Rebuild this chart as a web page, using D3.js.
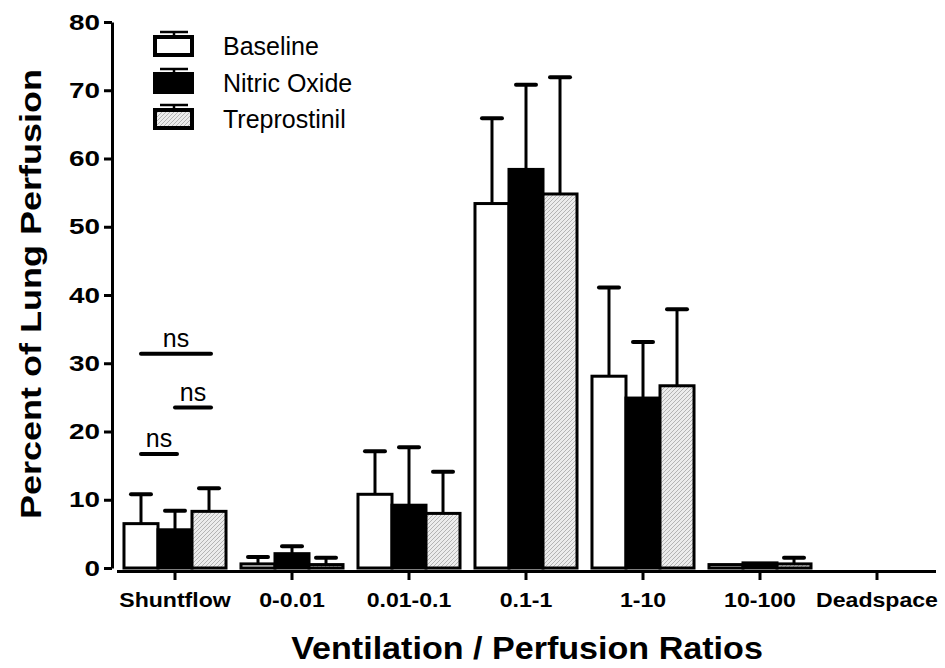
<!DOCTYPE html>
<html>
<head>
<meta charset="utf-8">
<script src="https://cdn.jsdelivr.net/npm/d3@7"></script>
<style>
  body { margin: 0; background: #fff; }
  svg { display: block; }
  text { font-family: "Liberation Sans", Arial, Helvetica, sans-serif; }
</style>
</head>
<body>
<svg id="chart" width="945" height="668"></svg>
<script>
// ---- data ----
const categories = ["Shuntflow", "0-0.01", "0.01-0.1", "0.1-1", "1-10", "10-100", "Deadspace"];
const seriesNames = ["Baseline", "Nitric Oxide", "Treprostinil"];
const baselineValues = [6.5, 0.6, 10.8, 53.4, 28.1, 0.5, 0];
const baselineErrors = [4.3, 1.0, 6.3, 12.5, 13.0, 0, 0];
const nitricValues = [5.6, 2.1, 9.2, 58.4, 24.9, 0.75, 0];
const nitricErrors = [2.8, 1.1, 8.5, 12.4, 8.2, 0, 0];
const treprostinilValues = [8.3, 0.5, 8.0, 54.8, 26.7, 0.6, 0];
const treprostinilErrors = [3.4, 1.0, 6.1, 17.1, 11.2, 0.9, 0];
const yTicks = [0, 10, 20, 30, 40, 50, 60, 70, 80];
// significance brackets within "Shuntflow": [from series, to series, level]
const sigFrom = [0, 1, 0];
const sigTo = [1, 2, 2];
const sigLevel = [16.7, 23.5, 31.4];
const sigLabel = ["ns", "ns", "ns"];

const seriesValues = [baselineValues, nitricValues, treprostinilValues];
const seriesErrors = [baselineErrors, nitricErrors, treprostinilErrors];

// ---- layout ----
const svg = d3.select("#chart");
const defs = svg.append("defs");
const pat = defs.append("pattern")
  .attr("id", "hatch").attr("patternUnits", "userSpaceOnUse")
  .attr("width", 4).attr("height", 4);
pat.append("rect").attr("width", 4).attr("height", 4).attr("fill", "#ececec");
pat.append("path").attr("d", "M-1,1 l2,-2 M0,4 l4,-4 M3,5 l2,-2")
  .attr("stroke", "#b4b4b4").attr("stroke-width", 1);

const fills = ["#ffffff", "#000000", "url(#hatch)"];

const x = d3.scaleBand().domain(categories).range([116.5, 935.5])
  .paddingInner(0.128).paddingOuter(0.064);
const xs = d3.scaleBand().domain(d3.range(3)).range([0, x.bandwidth()]).padding(0);
const y = d3.scaleLinear().domain([0, 80]).range([568, 22]);

// y axis
const yAxis = svg.append("g").attr("transform", "translate(112,0)")
  .call(d3.axisLeft(y).tickValues(yTicks).tickSize(8).tickSizeOuter(0).tickPadding(4));
yAxis.select(".domain").attr("stroke-width", 3);
yAxis.selectAll(".tick line").attr("stroke-width", 3);
yAxis.selectAll(".tick text").attr("font-size", 22).attr("font-weight", "bold")
  .attr("fill", "#000").attr("font-family", "Liberation Sans, Arial, sans-serif")
  .attr("textLength", function () { return 15.5 * this.textContent.length; })
  .attr("lengthAdjust", "spacingAndGlyphs");

// x axis
const xAxis = svg.append("g").attr("transform", "translate(0,571)")
  .call(d3.axisBottom(x).tickSize(9).tickSizeOuter(0).tickPadding(12));
xAxis.select(".domain").attr("stroke-width", 3);
xAxis.selectAll(".tick line").attr("stroke-width", 3);
xAxis.selectAll(".tick text").attr("font-size", 21).attr("font-weight", "bold")
  .attr("fill", "#000").attr("font-family", "Liberation Sans, Arial, sans-serif")
  .attr("transform", "scale(1.1,1)");

// bars
const bars = [];
seriesValues.forEach((vals, s) => {
  vals.forEach((v, i) => {
    if (v > 0) bars.push({ s, cat: categories[i], v, e: seriesErrors[s][i] });
  });
});

const gBars = svg.append("g");
gBars.selectAll("rect").data(bars).join("rect")
  .attr("x", d => x(d.cat) + xs(d.s))
  .attr("y", d => y(d.v))
  .attr("width", xs.bandwidth())
  .attr("height", d => y(0) - y(d.v))
  .attr("fill", d => fills[d.s])
  .attr("stroke", "#000").attr("stroke-width", 3);

// error bars
const errs = bars.filter(d => d.e > 0);
const gErr = svg.append("g").attr("stroke", "#000");
gErr.selectAll("line.stem").data(errs).join("line").attr("class", "stem")
  .attr("x1", d => x(d.cat) + xs(d.s) + xs.bandwidth() / 2)
  .attr("x2", d => x(d.cat) + xs(d.s) + xs.bandwidth() / 2)
  .attr("y1", d => y(d.v)).attr("y2", d => y(d.v + d.e))
  .attr("stroke-width", 3);
gErr.selectAll("line.cap").data(errs).join("line").attr("class", "cap")
  .attr("x1", d => x(d.cat) + xs(d.s) + xs.bandwidth() / 2 - 10)
  .attr("x2", d => x(d.cat) + xs(d.s) + xs.bandwidth() / 2 + 10)
  .attr("y1", d => y(d.v + d.e)).attr("y2", d => y(d.v + d.e))
  .attr("stroke-width", 4).attr("stroke-linecap", "round");

// significance brackets
const sig = sigFrom.map((f, i) => ({ f, t: sigTo[i], lv: sigLevel[i], lab: sigLabel[i] }));
const cx = s => x(categories[0]) + xs(s) + xs.bandwidth() / 2;
const gSig = svg.append("g");
gSig.selectAll("line").data(sig).join("line")
  .attr("x1", d => cx(d.f)).attr("x2", d => cx(d.t) + 2)
  .attr("y1", d => y(d.lv)).attr("y2", d => y(d.lv))
  .attr("stroke", "#000").attr("stroke-width", 4).attr("stroke-linecap", "round");
gSig.selectAll("text").data(sig).join("text")
  .attr("x", d => (cx(d.f) + cx(d.t)) / 2 + 1)
  .attr("y", d => y(d.lv) - 7)
  .attr("text-anchor", "middle").attr("font-size", 25)
  .text(d => d.lab);

// legend
const legend = svg.append("g");
const rowY = [46, 83, 119];
seriesNames.forEach((name, i) => {
  const g = legend.append("g").attr("transform", `translate(155,${rowY[i]})`);
  g.append("line").attr("x1", 19).attr("x2", 19).attr("y1", -14).attr("y2", -9)
    .attr("stroke", "#000").attr("stroke-width", 2.5);
  g.append("line").attr("x1", 5).attr("x2", 33).attr("y1", -14).attr("y2", -14)
    .attr("stroke", "#000").attr("stroke-width", 2.5);
  g.append("rect").attr("x", 0).attr("y", -9).attr("width", 37).attr("height", 18)
    .attr("fill", fills[i]).attr("stroke", "#000").attr("stroke-width", 4);
  g.append("text").attr("x", 68).attr("y", 0).attr("dy", "0.36em")
    .attr("font-size", 25).text(name);
});

// axis titles
svg.append("text").attr("transform", "translate(527,659) scale(1.1,1)")
  .attr("text-anchor", "middle").attr("font-size", 31).attr("font-weight", "bold")
  .text("Ventilation / Perfusion Ratios");
svg.append("text")
  .attr("transform", "translate(41,294) rotate(-90) scale(1.2,1)")
  .attr("text-anchor", "middle").attr("font-size", 30).attr("font-weight", "bold")
  .text("Percent of Lung Perfusion");
</script>
</body>
</html>
